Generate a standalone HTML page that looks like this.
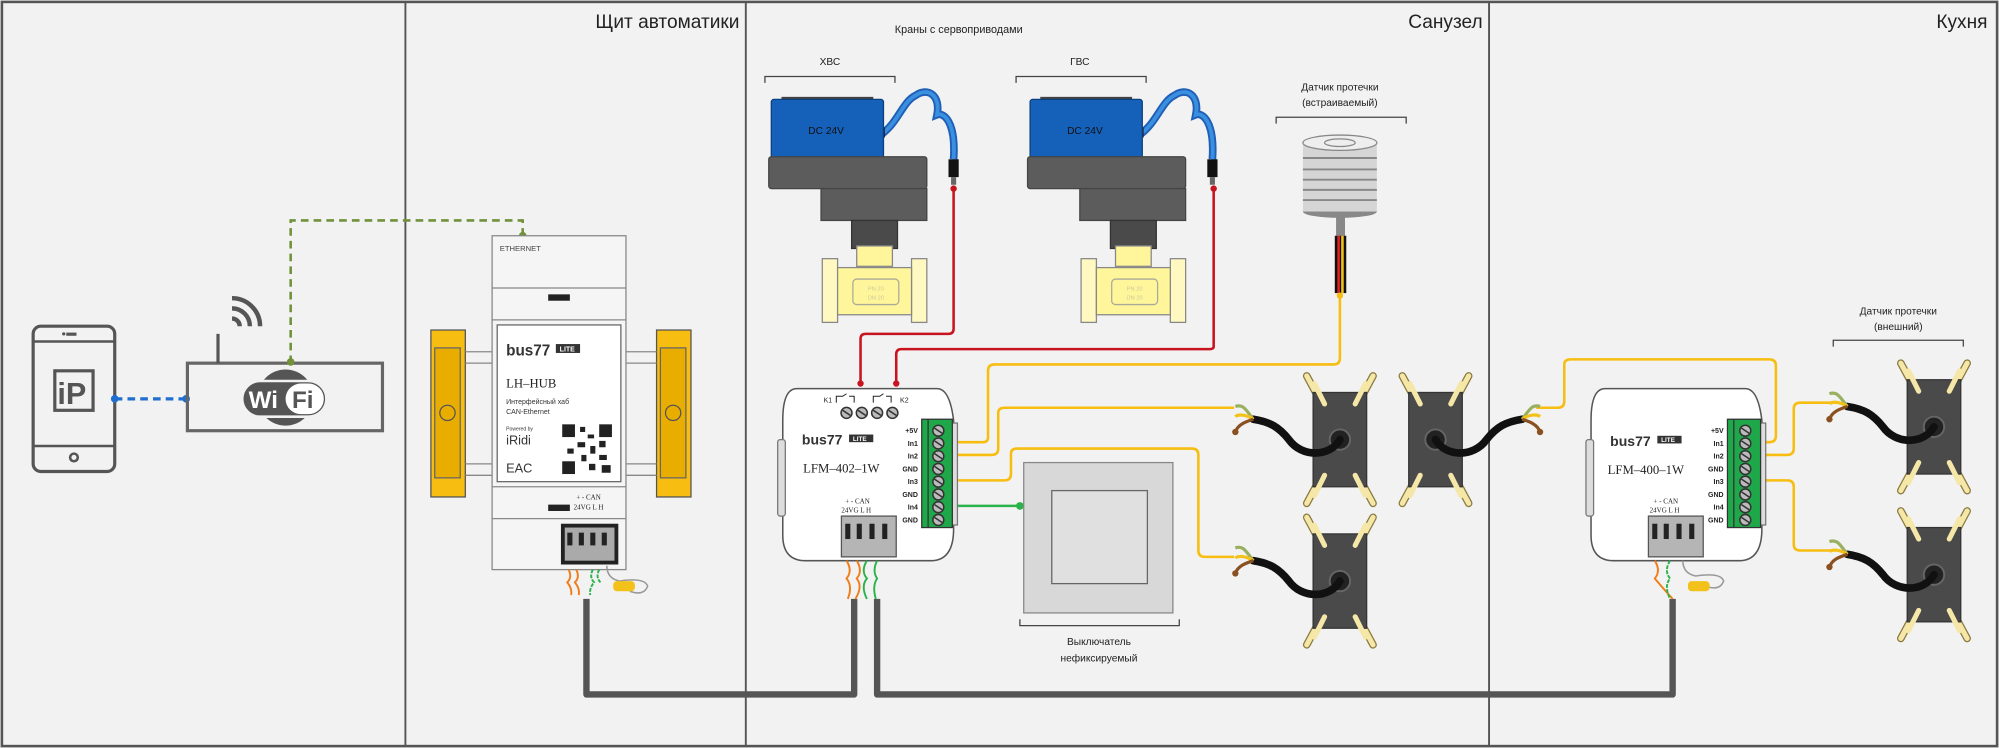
<!DOCTYPE html>
<html><head><meta charset="utf-8"><style>
html,body{margin:0;padding:0;background:#f2f2f2;}
svg{display:block;}
text{font-family:"Liberation Sans","DejaVu Sans",sans-serif;}
.m{font-family:"Liberation Serif",serif;}
</style></head><body>
<svg width="1999" height="748" viewBox="0 0 1568 587" preserveAspectRatio="none" xmlns="http://www.w3.org/2000/svg">
<defs>
<g id="sens">
  <line x1="-12" y1="-24" x2="-26" y2="-50" stroke="#8a7a40" stroke-width="6" stroke-linecap="round"/>
  <line x1="12" y1="-24" x2="26" y2="-50" stroke="#8a7a40" stroke-width="6" stroke-linecap="round"/>
  <line x1="-12" y1="24" x2="-26" y2="50" stroke="#8a7a40" stroke-width="6" stroke-linecap="round"/>
  <line x1="12" y1="24" x2="26" y2="50" stroke="#8a7a40" stroke-width="6" stroke-linecap="round"/>
  <line x1="-12" y1="-24" x2="-26" y2="-50" stroke="#f5e7a8" stroke-width="4" stroke-linecap="round"/>
  <line x1="12" y1="-24" x2="26" y2="-50" stroke="#f5e7a8" stroke-width="4" stroke-linecap="round"/>
  <line x1="-12" y1="24" x2="-26" y2="50" stroke="#f5e7a8" stroke-width="4" stroke-linecap="round"/>
  <line x1="12" y1="24" x2="26" y2="50" stroke="#f5e7a8" stroke-width="4" stroke-linecap="round"/>
  <rect x="-21" y="-37" width="42" height="74" fill="#4a4a4a" stroke="#333"/>
  <line x1="-12" y1="-28" x2="-20" y2="-44" stroke="#f5e7a8" stroke-width="4" stroke-linecap="round"/>
  <line x1="12" y1="-28" x2="20" y2="-44" stroke="#f5e7a8" stroke-width="4" stroke-linecap="round"/>
  <line x1="-12" y1="28" x2="-20" y2="44" stroke="#f5e7a8" stroke-width="4" stroke-linecap="round"/>
  <line x1="12" y1="28" x2="20" y2="44" stroke="#f5e7a8" stroke-width="4" stroke-linecap="round"/>
  <circle cx="0" cy="0" r="8" fill="#222" stroke="#666" stroke-width="1.5"/>
  <path d="M0 0 C-8 14,-30 14,-40 0 C-48 -10,-55 -14,-68 -16" fill="none" stroke="#111" stroke-width="6" stroke-linecap="round"/>
  <path d="M-68 -16 C-74 -24,-76 -28,-82 -26" fill="none" stroke="#9ab060" stroke-width="2.5"/>
  <path d="M-68 -16 C-74 -20,-80 -20,-82 -18" fill="none" stroke="#f3c21a" stroke-width="2.5"/>
  <path d="M-68 -16 C-74 -14,-80 -12,-82 -6" fill="none" stroke="#8a5020" stroke-width="2.5"/>
  <circle cx="-82" cy="-6" r="2.5" fill="#8a5020"/>
</g>
<g id="scr"><circle r="4.3" fill="#bbb" stroke="#333" stroke-width="1.2"/><line x1="-3" y1="-2" x2="3" y2="2" stroke="#333" stroke-width="1.2"/></g>
</defs>
<rect x="0" y="0" width="1568" height="587" fill="#f2f2f2"/>
<rect x="1.5" y="1.5" width="1565" height="584" fill="none" stroke="#555" stroke-width="2"/>
<line x1="318" y1="1" x2="318" y2="586" stroke="#555" stroke-width="1.5"/>
<line x1="585" y1="1" x2="585" y2="586" stroke="#555" stroke-width="1.5"/>
<line x1="1168" y1="1" x2="1168" y2="586" stroke="#555" stroke-width="1.5"/>
<text x="580" y="22" font-size="15" text-anchor="end" fill="#222">Щит автоматики</text>
<text x="1163" y="22" font-size="15" text-anchor="end" fill="#222">Санузел</text>
<text x="1559" y="22" font-size="15" text-anchor="end" fill="#222">Кухня</text>
<text x="752" y="26" font-size="8.5" text-anchor="middle" fill="#222">Краны с сервоприводами</text>
<text x="651" y="51" font-size="8" text-anchor="middle" fill="#222">ХВС</text>
<path d="M600 65 V60 H702 V65" fill="none" stroke="#444"/>
<text x="847" y="51" font-size="8" text-anchor="middle" fill="#222">ГВС</text>
<path d="M797 65 V60 H899 V65" fill="none" stroke="#444"/>
<text x="1051" y="71" font-size="8" text-anchor="middle" fill="#222">Датчик протечки</text>
<text x="1051" y="83" font-size="8" text-anchor="middle" fill="#222">(встраиваемый)</text>
<path d="M1001 97 V92 H1103 V97" fill="none" stroke="#444"/>
<text x="1489" y="247" font-size="8" text-anchor="middle" fill="#222">Датчик протечки</text>
<text x="1489" y="259" font-size="8" text-anchor="middle" fill="#222">(внешний)</text>
<path d="M1438 272 V267 H1540 V272" fill="none" stroke="#444"/>

<!-- phone -->
<rect x="26" y="256" width="64" height="114" rx="6" fill="none" stroke="#555" stroke-width="2.5"/>
<line x1="26" y1="268" x2="90" y2="268" stroke="#555" stroke-width="2"/>
<line x1="26" y1="350" x2="90" y2="350" stroke="#555" stroke-width="2"/>
<rect x="52" y="261" width="8" height="2.5" fill="#555"/><circle cx="50" cy="262" r="1.3" fill="#555"/>
<circle cx="58" cy="359" r="3" fill="none" stroke="#555" stroke-width="2"/>
<rect x="43" y="291" width="30" height="31" fill="none" stroke="#555" stroke-width="2.5"/>
<text x="45" y="317" font-size="24" fill="#555" font-weight="bold">iP</text>
<!-- blue dashed -->
<line x1="90" y1="313" x2="146" y2="313" stroke="#1f6fd0" stroke-width="2.5" stroke-dasharray="6,4"/>
<circle cx="90" cy="313" r="3" fill="#1f6fd0"/><circle cx="146" cy="313" r="3" fill="#1f6fd0"/>
<!-- router -->
<rect x="147" y="285" width="153" height="53" fill="none" stroke="#666" stroke-width="2.5"/>
<line x1="171" y1="285" x2="171" y2="262" stroke="#555" stroke-width="2.5"/>
<path d="M182 250 a6 6 0 0 1 6 6 M182 242 a14 14 0 0 1 14 14 M182 234 a22 22 0 0 1 22 22" fill="none" stroke="#555" stroke-width="3.5"/>
<circle cx="224" cy="312" r="22" fill="#555"/>
<rect x="190" y="299" width="66" height="28" rx="14" fill="#555" stroke="#f2f2f2" stroke-width="2"/>
<text x="195" y="320" font-size="19" font-weight="bold" fill="#fff">Wi</text>
<rect x="224" y="301" width="30" height="24" rx="12" fill="#fff"/>
<text x="229" y="320" font-size="19" font-weight="bold" fill="#555">Fi</text>
<!-- green dashed -->
<path d="M228 285 V173 H410 V184" fill="none" stroke="#70913a" stroke-width="2" stroke-dasharray="6,4"/>
<circle cx="228" cy="284" r="3" fill="#70913a"/><circle cx="410" cy="185" r="3" fill="#70913a"/>

<!-- DIN clips -->
<rect x="338" y="259" width="27" height="131" fill="#f7bd10" stroke="#555"/>
<rect x="341" y="273" width="20" height="102" fill="#e9ad00" stroke="#666"/>
<circle cx="351" cy="324" r="6" fill="#e9ad00" stroke="#555"/>
<rect x="515" y="259" width="27" height="131" fill="#f7bd10" stroke="#555"/>
<rect x="518" y="273" width="20" height="102" fill="#e9ad00" stroke="#666"/>
<circle cx="528" cy="324" r="6" fill="#e9ad00" stroke="#555"/>
<line x1="365" y1="276" x2="386" y2="276" stroke="#888"/><line x1="365" y1="285" x2="386" y2="285" stroke="#888"/>
<line x1="365" y1="364" x2="386" y2="364" stroke="#888"/><line x1="365" y1="373" x2="386" y2="373" stroke="#888"/>
<line x1="491" y1="276" x2="515" y2="276" stroke="#888"/><line x1="491" y1="285" x2="515" y2="285" stroke="#888"/>
<line x1="491" y1="364" x2="515" y2="364" stroke="#888"/><line x1="491" y1="373" x2="515" y2="373" stroke="#888"/>
<!-- hub -->
<rect x="386" y="185" width="105" height="262" fill="#f5f5f5" stroke="#888"/>
<line x1="386" y1="226" x2="491" y2="226" stroke="#888"/>
<line x1="386" y1="251" x2="491" y2="251" stroke="#888"/>
<line x1="386" y1="382" x2="491" y2="382" stroke="#888"/>
<line x1="386" y1="407" x2="491" y2="407" stroke="#888"/>
<text x="392" y="197" font-size="6" fill="#444">ETHERNET</text>
<rect x="430" y="231" width="17" height="5" fill="#222"/>
<rect x="430" y="396" width="17" height="5" fill="#222"/>
<rect x="390" y="255" width="97" height="123" fill="#fff" stroke="#666"/>
<text x="397" y="279" font-size="12" font-weight="bold" fill="#333">bus77</text>
<rect x="436" y="270" width="19" height="7" fill="#333"/><text x="439" y="276" font-size="5.5" fill="#fff" font-weight="bold">LITE</text>
<text x="397" y="304" font-size="10" class="m" fill="#222">LH–HUB</text>
<text x="397" y="317" font-size="5.5" fill="#333">Интерфейсный хаб</text>
<text x="397" y="325" font-size="5.5" fill="#333">CAN-Ethernet</text>
<text x="397" y="338" font-size="4" fill="#333">Powered by</text>
<text x="397" y="349" font-size="10" fill="#333">iRidi</text>
<text x="397" y="371" font-size="10" fill="#333">EAC</text>
<rect x="441" y="333" width="39" height="39" fill="#fff"/>
<g fill="#222"><rect x="441" y="333" width="10" height="10"/><rect x="470" y="333" width="10" height="10"/><rect x="441" y="362" width="10" height="10"/>
<rect x="455" y="335" width="4" height="4"/><rect x="461" y="341" width="5" height="3"/><rect x="453" y="347" width="6" height="4"/><rect x="463" y="350" width="4" height="6"/><rect x="445" y="352" width="5" height="4"/><rect x="456" y="357" width="4" height="5"/><rect x="470" y="357" width="6" height="4"/><rect x="462" y="364" width="5" height="5"/><rect x="472" y="365" width="7" height="6"/><rect x="470" y="346" width="5" height="5"/></g>
<text x="452" y="392" font-size="5.5" class="m" fill="#222">+  -  CAN</text>
<text x="450" y="400" font-size="5.5" class="m" fill="#222">24VG  L  H</text>
<rect x="440" y="411" width="45" height="32" fill="#222"/>
<rect x="443" y="414" width="39" height="26" fill="#aaa"/>
<g fill="#222"><rect x="445" y="418" width="4" height="10"/><rect x="454" y="418" width="4" height="10"/><rect x="463" y="418" width="4" height="10"/><rect x="472" y="418" width="4" height="10"/></g>
<path d="M446 447 q3 6,-1 10 q4 5,3 10 M452 447 q3 6,-1 10 q4 5,3 10" fill="none" stroke="#f07d1a" stroke-width="1.5"/>
<path d="M465 447 q-3 6,1 10 q-4 5,-3 10 M470 447 q-3 6,1 10" fill="none" stroke="#2bb34b" stroke-width="1.5" stroke-dasharray="3,1"/>
<path d="M476 444 q0 10,10 12 q20 -3,22 4 q-3 8,-14 4" fill="none" stroke="#999" stroke-width="1.2"/>
<rect x="481" y="456" width="17" height="8" rx="3" fill="#f3c21a"/>
<!-- bus cables -->
<path d="M460 470 V545 H670 V470" fill="none" stroke="#555" stroke-width="5" stroke-linejoin="round"/>
<path d="M688 470 V545 H1312 V470" fill="none" stroke="#555" stroke-width="5" stroke-linejoin="round"/>

<!-- valves -->
<g id="valve">
<path d="M692 105 C705 95,708 80,718 75 C728 68,738 75,735 90 C740 88,750 95,748 125" fill="none" stroke="#1f5fb5" stroke-width="6"/>
<path d="M692 105 C705 95,708 80,718 75 C728 68,738 75,735 90 C740 88,750 95,748 125" fill="none" stroke="#3a8fe0" stroke-width="3"/>
<rect x="744" y="125" width="8" height="14" fill="#111"/>
<rect x="746" y="139" width="4" height="6" fill="#666"/>
<rect x="688" y="100" width="6" height="8" fill="#111"/>
<rect x="613" y="76" width="72" height="4" fill="#444"/>
<rect x="605" y="78" width="88" height="46" rx="2" fill="#1560b8" stroke="#0c3f7e"/>
<text x="648" y="105" font-size="8" fill="#111" text-anchor="middle">DC 24V</text>
<rect x="603" y="123" width="124" height="25" rx="2" fill="#5c5c5c" stroke="#444"/>
<rect x="644" y="148" width="83" height="25" fill="#5c5c5c" stroke="#444"/>
<rect x="668" y="173" width="36" height="22" fill="#4a4a4a" stroke="#333"/>
<rect x="672" y="193" width="28" height="16" fill="#fff59a" stroke="#888"/>
<rect x="645" y="203" width="12" height="50" fill="#fff8c0" stroke="#888"/>
<rect x="715" y="203" width="12" height="50" fill="#fff8c0" stroke="#888"/>
<rect x="657" y="210" width="58" height="37" fill="#fff59a" stroke="#888"/>
<rect x="669" y="219" width="36" height="20" rx="3" fill="none" stroke="#aa9" stroke-width="1"/>
<text x="687" y="228" font-size="4.5" fill="#cc9" text-anchor="middle">PN 20</text>
<text x="687" y="235" font-size="4.5" fill="#cc9" text-anchor="middle">DN 20</text>
</g>
<use href="#valve" transform="translate(203,0)"/>
<!-- red wires -->
<path d="M748 148 V258 Q748 262 744 262 H679 Q675 262 675 266 V301" fill="none" stroke="#c8141e" stroke-width="2"/>
<path d="M952 148 V272 Q952 274 948 274 H707 Q703 274 703 278 V301" fill="none" stroke="#c8141e" stroke-width="2"/>
<circle cx="748" cy="148" r="2.5" fill="#c8141e"/><circle cx="952" cy="148" r="2.5" fill="#c8141e"/>
<circle cx="675" cy="301" r="2.5" fill="#c8141e"/><circle cx="703" cy="301" r="2.5" fill="#c8141e"/>

<!-- embedded sensor -->
<rect x="1048" y="168" width="7" height="17" fill="#888"/>
<rect x="1047" y="185" width="9" height="45" fill="#111"/>
<rect x="1049" y="185" width="2" height="45" fill="#d22"/><rect x="1052" y="185" width="2" height="45" fill="#f3c21a"/>
<ellipse cx="1051" cy="166" rx="29" ry="5" fill="#888"/>
<rect x="1022" y="112" width="58" height="54" fill="#d5d5d5"/>
<g stroke="#888" stroke-width="1.5"><line x1="1022" y1="124" x2="1080" y2="124"/><line x1="1022" y1="133" x2="1080" y2="133"/><line x1="1022" y1="141" x2="1080" y2="141"/><line x1="1022" y1="149" x2="1080" y2="149"/><line x1="1022" y1="157" x2="1080" y2="157"/></g>
<ellipse cx="1051" cy="112" rx="29" ry="6" fill="#eee" stroke="#888"/>
<ellipse cx="1051" cy="112" rx="12" ry="3" fill="none" stroke="#888"/>

<!-- yellow wires Sanuzel -->
<g fill="none" stroke="#f7bd10" stroke-width="2">
<path d="M1051 230 V281 Q1051 286 1046 286 H780 Q775 286 775 291 V343 Q775 347 771 347 H748"/>
<path d="M748 357 H778 Q783 357 783 352 V324 Q783 320 788 320 H968"/>
<path d="M748 377 H788 Q793 377 793 372 V356 Q793 352 798 352 H935 Q940 352 940 357 V432 Q940 437 945 437 H968"/>
<path d="M1205 320 H1222 Q1227 320 1227 315 V286 Q1227 282 1232 282 H1388 Q1393 282 1393 287 V342 Q1393 347 1388 347 H1383"/>
<path d="M1383 357 H1402 Q1407 357 1407 352 V321 Q1407 316 1412 316 H1440"/>
<path d="M1383 377 H1402 Q1407 377 1407 382 V427 Q1407 432 1412 432 H1440"/>
</g>
<g fill="#f7bd10"><circle cx="748" cy="347" r="3"/><circle cx="748" cy="357" r="3"/><circle cx="748" cy="377" r="3"/><circle cx="1383" cy="347" r="3"/><circle cx="1383" cy="357" r="3"/><circle cx="1383" cy="377" r="3"/><circle cx="1051" cy="232" r="2.5"/></g>
<line x1="748" y1="397" x2="800" y2="397" stroke="#2bb34b" stroke-width="2"/>
<circle cx="748" cy="397" r="3" fill="#2bb34b"/><circle cx="800" cy="397" r="3" fill="#2bb34b"/>

<!-- LFM devices -->
<g id="lfm">
<path d="M625 305 H735 Q745 305 748 330 V415 Q748 440 730 440 H632 Q614 440 614 420 V330 Q614 305 625 305 Z" fill="#fff" stroke="#555" stroke-width="1.2"/>
<rect x="610" y="345" width="6" height="60" rx="2" fill="#ddd" stroke="#777"/>
<rect x="746" y="332" width="5" height="80" fill="#ddd" stroke="#777"/>
<rect x="723" y="329" width="24" height="85" fill="#1fa84a" stroke="#333"/>
<line x1="728" y1="329" x2="728" y2="414" stroke="#333"/>
<use href="#scr" x="736" y="338"/><use href="#scr" x="736" y="348"/><use href="#scr" x="736" y="358"/><use href="#scr" x="736" y="368"/><use href="#scr" x="736" y="378"/><use href="#scr" x="736" y="388"/><use href="#scr" x="736" y="398"/><use href="#scr" x="736" y="408"/>
<g font-size="5.5" class="m" fill="#222" text-anchor="end" font-weight="bold">
<text x="720" y="340">+5V</text><text x="720" y="350">In1</text><text x="720" y="360">In2</text><text x="720" y="370">GND</text><text x="720" y="380">In3</text><text x="720" y="390">GND</text><text x="720" y="400">In4</text><text x="720" y="410">GND</text></g>
<text x="629" y="349" font-size="11" font-weight="bold" fill="#333">bus77</text>
<rect x="666" y="341" width="19" height="6" fill="#333"/><text x="669" y="346" font-size="5" fill="#fff" font-weight="bold">LITE</text>
<text x="630" y="371" font-size="10" class="m" fill="#222">LFM–402–1W</text>
<text x="663" y="395" font-size="5.5" class="m" fill="#222">+  -  CAN</text>
<text x="660" y="402" font-size="5.5" class="m" fill="#222">24VG  L  H</text>
<rect x="660" y="405" width="43" height="32" fill="#b5b5b5" stroke="#555"/>
<g fill="#222"><rect x="663" y="411" width="4" height="12"/><rect x="672" y="411" width="4" height="12"/><rect x="682" y="411" width="4" height="12"/><rect x="692" y="411" width="4" height="12"/></g>
<path d="M664 440 q5 8,0 14 q5 6,1 16 M672 440 q5 8,0 14 q5 6,-1 16" fill="none" stroke="#f07d1a" stroke-width="1.5"/>
<path d="M680 440 q-5 8,0 14 q-5 6,0 16 M688 440 q-4 8,0 14 q-4 6,-1 16" fill="none" stroke="#2bb34b" stroke-width="1.5"/>
</g>
<g class="m" font-size="5.5" fill="#222"><text x="646" y="316">K1</text><text x="706" y="316">K2</text></g>
<path d="M656 316 V311 H661 L664 309 M666 311 H670 V316 M685 316 V311 H690 L693 309 M695 311 H699 V316" fill="none" stroke="#222" stroke-width="0.8"/>
<use href="#scr" x="664" y="324" transform="translate(0,0)"/><use href="#scr" x="676" y="324"/><use href="#scr" x="688" y="324"/><use href="#scr" x="700" y="324"/>
<g transform="translate(634,0)">
<path d="M625 305 H735 Q745 305 748 330 V415 Q748 440 730 440 H632 Q614 440 614 420 V330 Q614 305 625 305 Z" fill="#fff" stroke="#555" stroke-width="1.2"/>
<rect x="610" y="345" width="6" height="60" rx="2" fill="#ddd" stroke="#777"/>
<rect x="746" y="332" width="5" height="80" fill="#ddd" stroke="#777"/>
<rect x="721" y="329" width="26" height="85" fill="#1fa84a" stroke="#333"/>
<line x1="726" y1="329" x2="726" y2="414" stroke="#333"/>
<use href="#scr" x="735" y="338"/><use href="#scr" x="735" y="348"/><use href="#scr" x="735" y="358"/><use href="#scr" x="735" y="368"/><use href="#scr" x="735" y="378"/><use href="#scr" x="735" y="388"/><use href="#scr" x="735" y="398"/><use href="#scr" x="735" y="408"/>
<g font-size="5.5" class="m" fill="#222" text-anchor="end" font-weight="bold">
<text x="718" y="340">+5V</text><text x="718" y="350">In1</text><text x="718" y="360">In2</text><text x="718" y="370">GND</text><text x="718" y="380">In3</text><text x="718" y="390">GND</text><text x="718" y="400">In4</text><text x="718" y="410">GND</text></g>
<text x="629" y="350" font-size="11" font-weight="bold" fill="#333">bus77</text>
<rect x="666" y="342" width="19" height="6" fill="#333"/><text x="669" y="347" font-size="5" fill="#fff" font-weight="bold">LITE</text>
<text x="627" y="372" font-size="10" class="m" fill="#222">LFM–400–1W</text>
<text x="663" y="395" font-size="5.5" class="m" fill="#222">+  -  CAN</text>
<text x="660" y="402" font-size="5.5" class="m" fill="#222">24VG  L  H</text>
<rect x="659" y="405" width="43" height="32" fill="#b5b5b5" stroke="#555"/>
<g fill="#222"><rect x="662" y="411" width="4" height="12"/><rect x="671" y="411" width="4" height="12"/><rect x="681" y="411" width="4" height="12"/><rect x="691" y="411" width="4" height="12"/></g>
<path d="M664 440 q5 8,0 14 q5 6,14 16" fill="none" stroke="#f07d1a" stroke-width="1.5"/>
<path d="M676 440 q-5 8,0 14 q-5 6,0 16" fill="none" stroke="#2bb34b" stroke-width="1.5" stroke-dasharray="3,1"/>
<path d="M686 440 q0 10,10 12 q20 -3,22 4 q-3 8,-14 4" fill="none" stroke="#999" stroke-width="1.2"/>
<rect x="690" y="456" width="17" height="8" rx="3" fill="#f3c21a"/>
</g>

<!-- switch -->
<rect x="803" y="363" width="117" height="118" fill="#d8d8d8" stroke="#888"/>
<rect x="825" y="385" width="75" height="73" fill="#e0e0e0" stroke="#666"/>
<path d="M800 486 V491 H925 V486" fill="none" stroke="#444"/>
<text x="862" y="506" font-size="8" text-anchor="middle" fill="#222">Выключатель</text>
<text x="862" y="519" font-size="8" text-anchor="middle" fill="#222">нефиксируемый</text>

<!-- leak sensors -->
<use href="#sens" transform="translate(1051,345)"/>
<use href="#sens" transform="translate(1051,456)"/>
<use href="#sens" transform="translate(1126,345) scale(-1,1)"/>
<use href="#sens" transform="translate(1517,335)"/>
<use href="#sens" transform="translate(1517,451)"/>
</svg>
</body></html>
